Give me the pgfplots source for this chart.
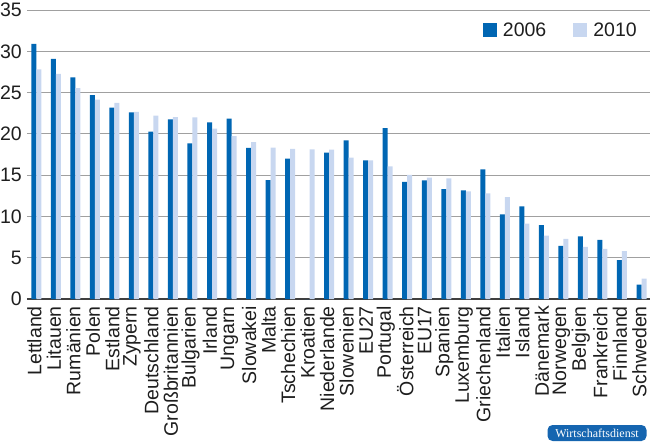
\documentclass[border=0pt]{standalone}
\usepackage{fontspec}
\setmainfont{Liberation Sans}
\newfontfamily\badgefont{Liberation Serif}
\usepackage{pgfplots}
\pgfplotsset{compat=1.18}
\definecolor{dark}{HTML}{0066B3}
\definecolor{light}{HTML}{C8D7F0}
\definecolor{gridgray}{HTML}{A0A0A0}
\definecolor{txt}{HTML}{1E1E1E}
\definecolor{badge}{HTML}{1565B0}
\begin{document}
\begin{tikzpicture}
\begin{axis}[
  scale only axis,
  width=623bp, height=289bp,
  xmin=-0.476, xmax=31.435,
  ymin=0, ymax=35,
  ytick={0,5,...,35},
  xtick={0,...,31},
  xticklabels={Lettland,Litauen,Rumänien,Polen,Estland,Zypern,Deutschland,Großbritannien,Bulgarien,Irland,Ungarn,Slowakei,Malta,Tschechien,Kroatien,Niederlande,Slowenien,EU27,Portugal,Österreich,EU17,Spanien,Luxemburg,Griechenland,Italien,Island,Dänemark,Norwegen,Belgien,Frankreich,Finnland,Schweden},
  ybar=0pt, bar width=5bp,
  axis x line*=bottom,
  axis y line*=left,
  y axis line style={draw=none},
  x axis line style={draw=txt!85, line width=1.4bp, -},
  major tick length=0pt,
  ymajorgrids,
  grid style={gridgray, line width=0.9bp},
  /pgf/number format/assume math mode=true,
  every tick label/.append style={font=\fontsize{19.5bp}{22bp}\selectfont, text=txt},
  yticklabel style={inner sep=0pt, anchor=east, xshift=-5bp},
  xticklabel style={inner sep=0pt, anchor=east, rotate=90, xshift=-7bp, yshift=2bp},
  legend columns=2,
  legend image code/.code={\fill[#1] (0bp,-7bp) rectangle (14bp,7bp);},
  legend style={draw=none, fill=none, inner sep=0pt, column sep=6bp,
    /tikz/every even column/.append style={column sep=27bp},
    nodes={inner sep=0pt, text=txt},
    font=\fontsize{19.5bp}{22bp}\selectfont,
    anchor=east, at={(axis description cs:0.979,0.931)}},
  legend cell align=left,
  clip=false,
]
\addplot[fill=dark, draw=none] coordinates {
(0,30.9) (1,29.07) (2,26.85) (3,24.7) (4,23.17) (5,22.6) (6,20.27) (7,21.76) (8,18.85) (9,21.4)
(10,21.84) (11,18.29) (12,14.41) (13,17.0) (14,0) (15,17.72) (16,19.2) (17,16.8) (18,20.7) (19,14.17)
(20,14.37) (21,13.32) (22,13.16) (23,15.7) (24,10.25) (25,11.22) (26,8.96) (27,6.42) (28,7.59) (29,7.15)
(30,4.72) (31,1.74)};
\addplot[fill=light, draw=none] coordinates {
(0,27.8) (1,27.25) (2,25.55) (3,24.14) (4,23.74) (5,22.65) (6,22.2) (7,22.04) (8,22.0) (9,20.63)
(10,19.74) (11,19.0) (12,18.33) (13,18.17) (14,18.13) (15,18.09) (16,17.12) (17,16.8) (18,16.07) (19,15.02)
(20,14.7) (21,14.6) (22,13.04) (23,12.8) (24,12.35) (25,9.12) (26,7.67) (27,7.27) (28,6.3) (29,6.06)
(30,5.81) (31,2.46)};
\legend{2006,2010}
\end{axis}
\node[fill=badge, rounded corners=5bp, text=white, minimum width=99bp, minimum height=16bp, inner sep=0pt,
  font=\badgefont\fontsize{12bp}{13bp}\selectfont] at (570bp,-134bp) {Wirtschaftsdienst};
\pgfresetboundingbox
\path[use as bounding box] (-27bp,-145bp) rectangle (623bp,299bp);
\end{tikzpicture}
\end{document}
